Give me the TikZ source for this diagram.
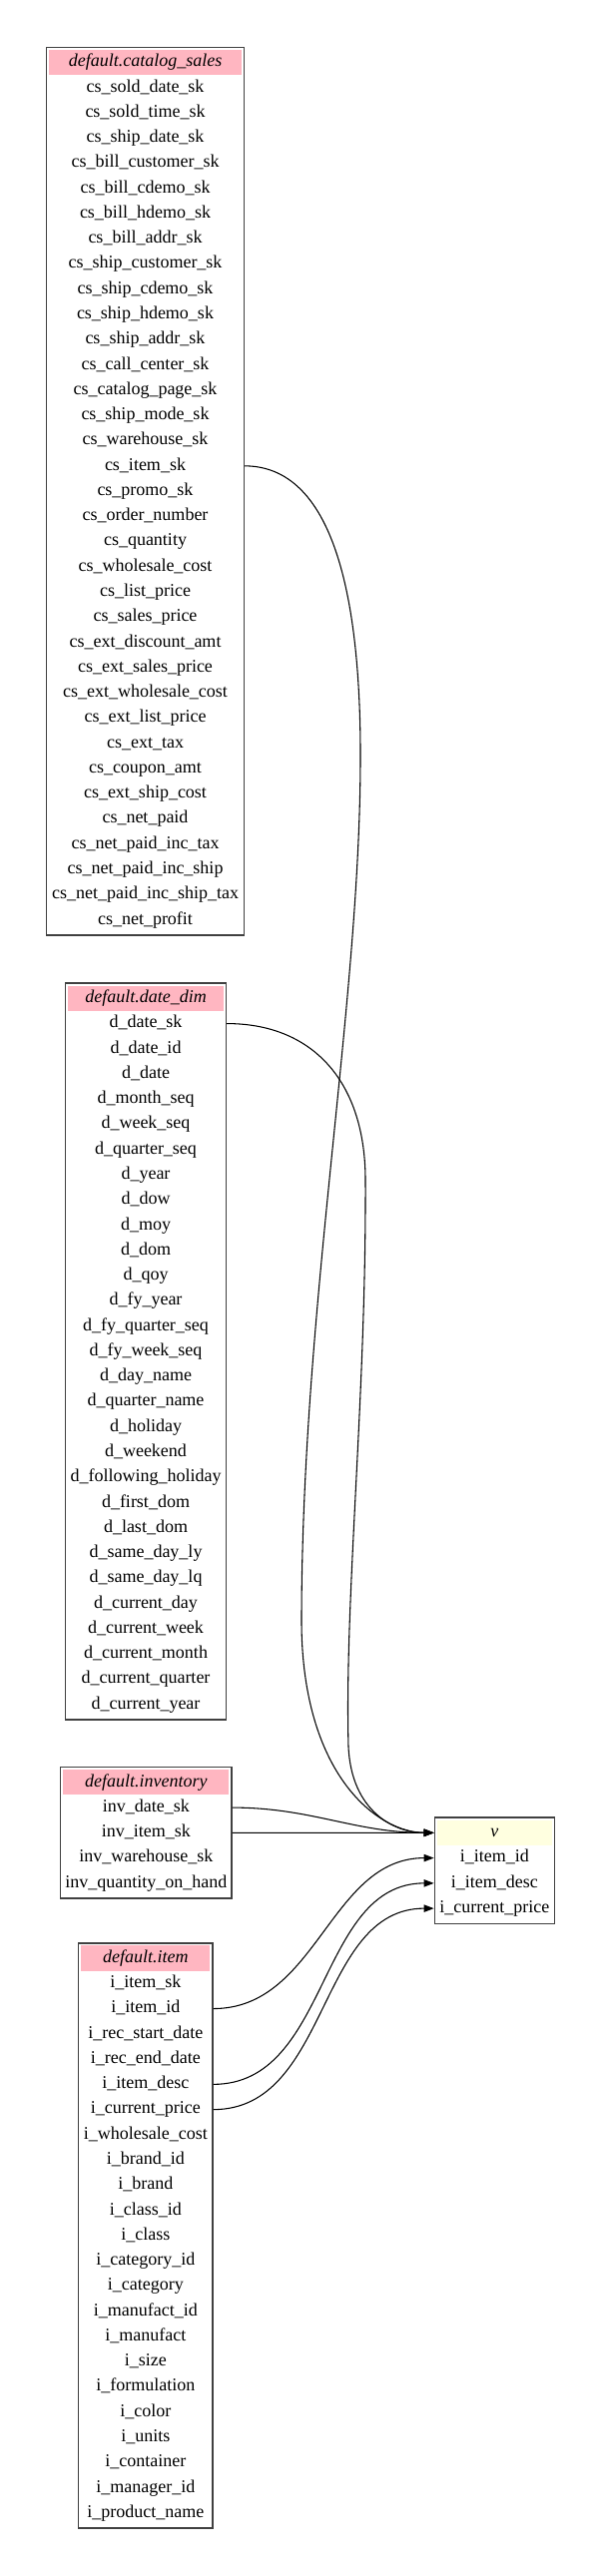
\documentclass[tikz,border=0pt]{standalone}
\usepackage{fontspec}
\setmainfont{Liberation Serif}
\usepackage{tikz}
\usetikzlibrary{arrows.meta,positioning,fit,calc}
\definecolor{headpink}{HTML}{FFB6C1}
\definecolor{viewyellow}{HTML}{FFFFE0}
\newcommand{\tblfont}{\fontsize{13.5}{16}\selectfont}
\tikzset{%
  % table parts
  field/.style={inner sep=0pt, minimum height=18.95pt, text height=9.5pt, text depth=3pt, font=\tblfont},
  head/.style={field, fill=headpink, font=\tblfont\itshape},
  viewhead/.style={head, fill=viewyellow},
  tbl/.style={draw=black!75, line width=1.1pt, inner sep=1.7pt},
  % edge styles
  fk/.style={-{Triangle[length=7.5pt, width=5.5pt]}, line width=0.8pt},
}
\newcommand{\rowgap}{25.27}
\newcommand{\tablehead}[5][head]{%
  % #1 = header style (head | viewhead)
  % #2 = node name
  % #3 = position
  % #4 = width
  % #5 = title
  \node[#1, minimum width=#4] (#2) at (#3) {#5};
}
\begin{document}
\begin{tikzpicture}[x=0.75pt, y=-0.75pt]
  \useasboundingbox (0,0) rectangle (603,2581);

  % catalog_sales
  \tablehead{cs}{145.5,62.5}{144.35pt}{default.catalog\_sales}
  \foreach \f [count=\i] in {cs\_sold\_date\_sk, cs\_sold\_time\_sk, cs\_ship\_date\_sk,
      cs\_bill\_customer\_sk, cs\_bill\_cdemo\_sk, cs\_bill\_hdemo\_sk, cs\_bill\_addr\_sk,
      cs\_ship\_customer\_sk, cs\_ship\_cdemo\_sk, cs\_ship\_hdemo\_sk, cs\_ship\_addr\_sk,
      cs\_call\_center\_sk, cs\_catalog\_page\_sk, cs\_ship\_mode\_sk, cs\_warehouse\_sk,
      cs\_item\_sk, cs\_promo\_sk, cs\_order\_number, cs\_quantity, cs\_wholesale\_cost,
      cs\_list\_price, cs\_sales\_price, cs\_ext\_discount\_amt, cs\_ext\_sales\_price,
      cs\_ext\_wholesale\_cost, cs\_ext\_list\_price, cs\_ext\_tax, cs\_coupon\_amt,
      cs\_ext\_ship\_cost, cs\_net\_paid, cs\_net\_paid\_inc\_tax, cs\_net\_paid\_inc\_ship,
      cs\_net\_paid\_inc\_ship\_tax, cs\_net\_profit}
    \node[field] (cs-\i) at ($(cs)+(0,\rowgap*\i)$) {\f};
  \node[tbl, fit=(cs)(cs-34)] (csbox) {};

  % date_dim
  \tablehead{dd}{146,1000.3}{116.6pt}{default.date\_dim}
  \foreach \f [count=\i] in {d\_date\_sk, d\_date\_id, d\_date, d\_month\_seq, d\_week\_seq,
      d\_quarter\_seq, d\_year, d\_dow, d\_moy, d\_dom, d\_qoy, d\_fy\_year,
      d\_fy\_quarter\_seq, d\_fy\_week\_seq, d\_day\_name, d\_quarter\_name, d\_holiday,
      d\_weekend, d\_following\_holiday, d\_first\_dom, d\_last\_dom, d\_same\_day\_ly,
      d\_same\_day\_lq, d\_current\_day, d\_current\_week, d\_current\_month,
      d\_current\_quarter, d\_current\_year}
    \node[field] (dd-\i) at ($(dd)+(0,\rowgap*\i)$) {\f};
  \node[tbl, fit=(dd)(dd-28)] (ddbox) {};

  % inventory
  \tablehead{inv}{146.3,1785.8}{124.6pt}{default.inventory}
  \foreach \f [count=\i] in {inv\_date\_sk, inv\_item\_sk, inv\_warehouse\_sk, inv\_quantity\_on\_hand}
    \node[field] (inv-\i) at ($(inv)+(0,\rowgap*\i)$) {\f};
  \node[tbl, fit=(inv)(inv-4)] (invbox) {};

  % item
  \tablehead{it}{145.8,1962}{96.9pt}{default.item}
  \foreach \f [count=\i] in {i\_item\_sk, i\_item\_id, i\_rec\_start\_date, i\_rec\_end\_date,
      i\_item\_desc, i\_current\_price, i\_wholesale\_cost, i\_brand\_id, i\_brand,
      i\_class\_id, i\_class, i\_category\_id, i\_category, i\_manufact\_id, i\_manufact,
      i\_size, i\_formulation, i\_color, i\_units, i\_container, i\_manager\_id,
      i\_product\_name}
    \node[field] (it-\i) at ($(it)+(0,\rowgap*\i)$) {\f};
  \node[tbl, fit=(it)(it-22)] (itbox) {};

  % view v
  \tablehead[viewhead]{v}{495.3,1836.3}{86.1pt}{v}
  \foreach \f [count=\i] in {i\_item\_id, i\_item\_desc, i\_current\_price}
    \node[field] (v-\i) at ($(v)+(0,\rowgap*\i)$) {\f};
  \node[tbl, fit=(v)(v-3)] (vbox) {};

  % Links
  \draw[fk] (cs-16 -| csbox.east) .. controls (320,467) and (360,560) .. (361,750)
    .. controls (362,1000) and (303,1300) .. (302,1620)
    .. controls (301,1780) and (380,1836.3) .. (v -| vbox.west);
  \draw[fk] (dd-1 -| ddbox.east) .. controls (310,1025.3) and (365,1080) .. (366,1180)
    .. controls (367,1400) and (345,1600) .. (349,1750)
    .. controls (352,1815) and (395,1836.3) .. (v -| vbox.west);
  \draw[fk] (inv-1 -| invbox.east) to[out=0, in=180] (v -| vbox.west);
  \draw[fk] (inv-2 -| invbox.east) -- (v -| vbox.west);

  \draw[fk] (it-2 -| itbox.east) to[out=0, in=180] (v-1 -| vbox.west);
  \draw[fk] (it-5 -| itbox.east) to[out=0, in=180] (v-2 -| vbox.west);
  \draw[fk] (it-6 -| itbox.east) to[out=0, in=180] (v-3 -| vbox.west);
\end{tikzpicture}
\end{document}
